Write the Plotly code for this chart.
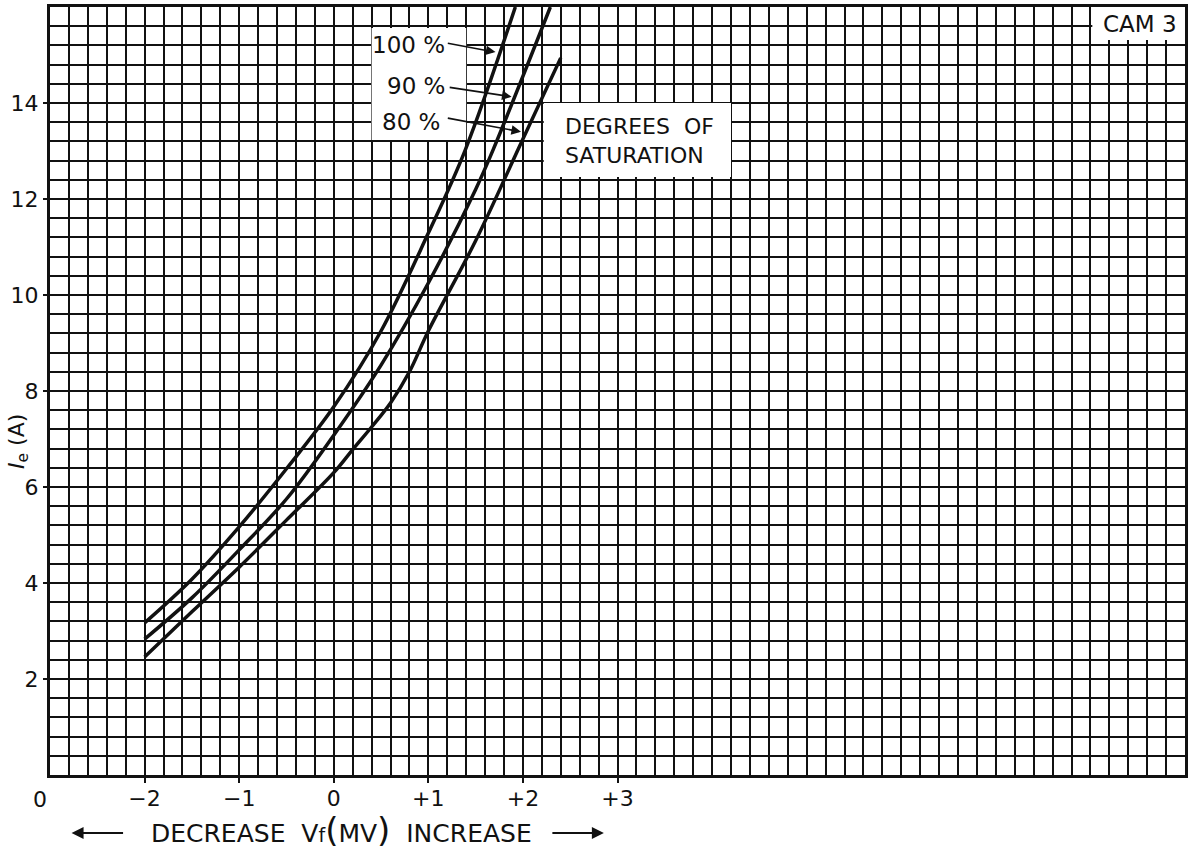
import plotly.graph_objects as go

# ---- data ----
x_100 = [-2, -1.5, -1, -0.5, 0, 0.5, 1, 1.39, 1.92]
y_100 = [3.17, 4.08, 5.17, 6.38, 7.67, 9.25, 11.29, 13.02, 16.0]

x_90 = [-2, -1.5, -1, -0.5, 0, 0.5, 1, 1.5, 1.69, 2.29]
y_90 = [2.83, 3.69, 4.69, 5.75, 7.08, 8.54, 10.25, 12.2, 13.05, 16.0]

x_80 = [-2, -1.5, -1, -0.5, 0, 0.2, 0.4, 0.6, 0.8, 1.0, 1.5, 2.0, 2.4]
y_80 = [2.46, 3.40, 4.33, 5.31, 6.30, 6.78, 7.25, 7.75, 8.4, 9.25, 11.13, 13.25, 14.94]

series_names = ["100 %", "90 %", "80 %"]
x_ticks = [-2, -1, 0, 1, 2, 3]
x_ticklabels = ["\u22122", "\u22121", "0", "+1", "+2", "+3"]
y_ticks = [2, 4, 6, 8, 10, 12, 14]
y_ticklabels = ["2", "4", "6", "8", "10", "12", "14"]

FONT = "DejaVu Sans, sans-serif"
INK = "#111111"
X_RANGE = [-3, 9]
Y_RANGE = [0, 16]

fig = go.Figure()
for xs, ys, nm in [(x_100, y_100, series_names[0]), (x_90, y_90, series_names[1]), (x_80, y_80, series_names[2])]:
    fig.add_trace(go.Scatter(x=xs, y=ys, mode="lines", name=nm,
                             line=dict(color=INK, width=3.5, shape="spline", smoothing=1.0),
                             showlegend=False, hoverinfo="skip"))
# empty trace so the labelled overlay axes are drawn
fig.add_trace(go.Scatter(x=[None], y=[None], xaxis="x2", yaxis="y2", showlegend=False,
                         hoverinfo="skip"))

# white boxes behind labels (above grid, below lines)
boxes = [(0.40, 1.40, 13.23, 15.56), (2.22, 4.20, 12.46, 14.0), (8.02, 9.0, 15.31, 16.0)]
for x0, x1, y0, y1 in boxes:
    fig.add_shape(type="rect", x0=x0, x1=x1, y0=y0, y1=y1, xref="x", yref="y",
                  fillcolor="white", line=dict(width=0), layer="between")

annos = []
label_pos = [(0.79, 15.21), (0.87, 14.35), (0.82, 13.60)]
for (lx, ly), nm in zip(label_pos, series_names):
    annos.append(dict(x=lx, y=ly, xref="x", yref="y", text=nm, showarrow=False,
                      font=dict(family=FONT, size=23, color=INK)))
arrows = [((1.19, 15.25), (1.71, 15.06)), ((1.21, 14.33), (1.88, 14.13)), ((1.19, 13.69), (1.98, 13.40))]
for (tx, ty), (hx, hy) in arrows:
    annos.append(dict(x=hx, y=hy, ax=tx, ay=ty, xref="x", yref="y", axref="x", ayref="y",
                      text="", showarrow=True, arrowhead=2, arrowsize=1.2, arrowwidth=1.6,
                      arrowcolor=INK, standoff=0))
annos.append(dict(x=3.23, y=13.2, xref="x", yref="y", text="DEGREES  OF<br>SATURATION",
                  showarrow=False, align="left",
                  font=dict(family=FONT, size=22, color=INK)))
annos.append(dict(x=8.52, y=15.65, xref="x", yref="y", text="CAM 3", showarrow=False,
                  font=dict(family=FONT, size=23, color=INK)))
# corner zero
annos.append(dict(x=-0.001, y=-0.032, xref="paper", yref="paper", text="0", showarrow=False,
                  xanchor="right", yanchor="middle", font=dict(family=FONT, size=22, color=INK)))
# y title
annos.append(dict(x=-0.028, y=0.434, xref="paper", yref="paper", xanchor="center", yanchor="middle",
                  text="<i>I</i><sub>e</sub> (A)", textangle=-90, showarrow=False,
                  font=dict(family=FONT, size=22, color=INK)))
# x title
annos.append(dict(x=0.2566, y=-0.071, xref="paper", yref="paper", xanchor="center", yanchor="middle",
                  text="DECREASE  V<span style='font-size:19px'>f</span><span style='font-size:34px'>(</span>MV<span style='font-size:34px'>)</span>  INCREASE",
                  showarrow=False, font=dict(family=FONT, size=25, color=INK)))
annos.append(dict(x=0.019, y=-0.0755, ax=53, ay=0, xref="paper", yref="paper",
                  axref="pixel", ayref="pixel", text="", showarrow=True, arrowhead=2,
                  arrowsize=1.2, arrowwidth=2, arrowcolor=INK, standoff=0))
annos.append(dict(x=0.488, y=-0.0755, ax=-53, ay=0, xref="paper", yref="paper",
                  axref="pixel", ayref="pixel", text="", showarrow=True, arrowhead=2,
                  arrowsize=1.2, arrowwidth=2, arrowcolor=INK, standoff=0))

fig.update_layout(
    width=1192, height=857,
    margin=dict(l=50, r=4, t=7, b=82),
    paper_bgcolor="white", plot_bgcolor="white",
    annotations=annos,
    font=dict(family=FONT, size=21, color=INK),
    xaxis=dict(range=X_RANGE, tickmode="linear", tick0=-3, dtick=0.2,
               showticklabels=False, ticks="",
               showgrid=True, gridcolor=INK, gridwidth=1.6,
               showline=True, linecolor=INK, linewidth=3, mirror=True, zeroline=False),
    yaxis=dict(range=Y_RANGE, tickmode="linear", tick0=0, dtick=0.4,
               showticklabels=False, ticks="",
               showgrid=True, gridcolor=INK, gridwidth=1.6,
               showline=True, linecolor=INK, linewidth=3, mirror=True, zeroline=False),
    xaxis2=dict(range=X_RANGE, overlaying="x", anchor="y2", side="bottom",
                tickmode="array", tickvals=x_ticks, ticktext=x_ticklabels,
                ticks="outside", ticklen=7, tickwidth=1.6, tickcolor=INK,
                ticklabelstandoff=-3,
                showgrid=False, zeroline=False, showline=False,
                tickfont=dict(family=FONT, size=22, color=INK)),
    yaxis2=dict(range=Y_RANGE, overlaying="y", anchor="x2", side="left",
                tickmode="array", tickvals=y_ticks, ticktext=y_ticklabels,
                ticks="outside", ticklen=6, tickwidth=1.6, tickcolor=INK,
                showgrid=False, zeroline=False, showline=False,
                tickfont=dict(family=FONT, size=22, color=INK)),
)

fig.write_html("out.html", config={"displayModeBar": False},
               post_script="document.body.style.margin='0';document.body.style.overflow='hidden';")
